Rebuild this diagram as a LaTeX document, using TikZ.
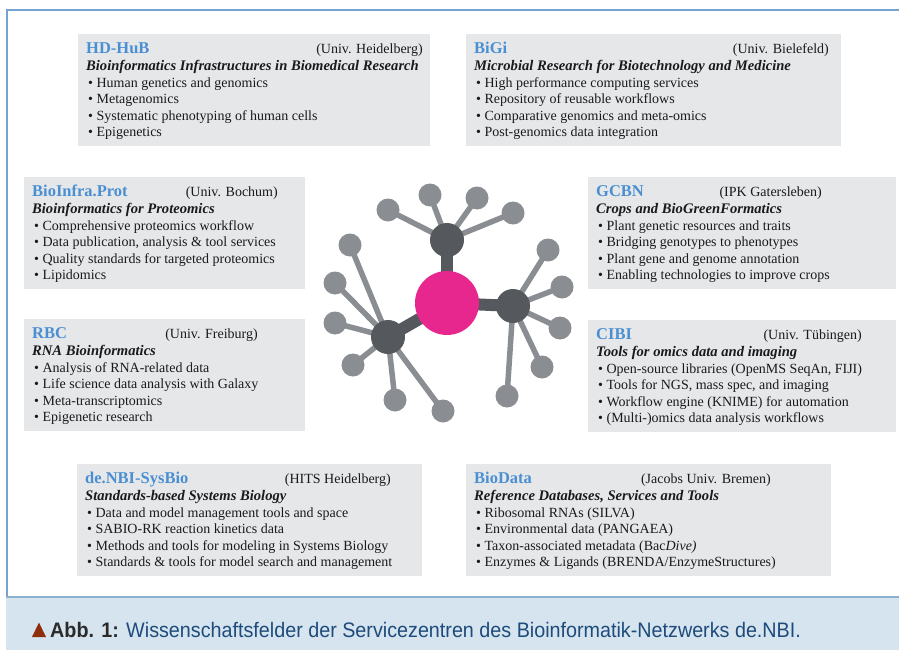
\documentclass[tikz,border=0pt]{standalone}
\usepackage{fontspec}
\setmainfont{Liberation Serif}
\newfontfamily\capfont[FakeStretch=0.94]{Liberation Sans}
\usetikzlibrary{calc}

\definecolor{boxgray}{HTML}{E6E7E9}
\definecolor{hdrblue}{HTML}{4A8FD2}
\definecolor{framecol}{HTML}{74A3CF}
\definecolor{bandfill}{HTML}{D5E4EE}
\definecolor{bandline}{HTML}{8DB0CF}
\definecolor{capred}{HTML}{8F2D0C}
\definecolor{capdark}{HTML}{2B2B2B}
\definecolor{capblue}{HTML}{1E4B7B}
\definecolor{corepink}{HTML}{E8278E}
\definecolor{hubdark}{HTML}{55585D}
\definecolor{leafgray}{HTML}{8A8D92}
\definecolor{inktext}{HTML}{1A1A1A}

\pgfdeclarelayer{paper}
\pgfdeclarelayer{links}
\pgfsetlayers{paper,links,main}

\tikzset{
  svcbg/.style={rectangle, fill=boxgray, draw=none, inner sep=0pt, outer sep=0pt},
  hdr/.style={font=\fontsize{16.5}{18}\selectfont\bfseries, text=hdrblue, inner sep=0pt},
  aff/.style={font=\fontsize{14}{16}\selectfont, text=inktext, inner sep=0pt},
  sub/.style={font=\fontsize{14.6}{16}\selectfont\bfseries\itshape, text=inktext, inner sep=0pt},
  item/.style={font=\fontsize{14}{16}\selectfont, text=inktext, inner sep=0pt},
  core/.style={circle, fill=corepink, minimum size=64pt, inner sep=0pt},
  hub/.style={circle, fill=hubdark, minimum size=34pt, inner sep=0pt},
  leaf/.style={circle, fill=leafgray, minimum size=23pt, inner sep=0pt},
  bar/.style={draw=hubdark, line width=12pt},
  spoke/.style={draw=leafgray, line width=5.5pt},
  capt/.style={font=\capfont\fontsize{21}{24}\selectfont, text=capdark, inner sep=0pt},
}

% service centre panel: name, top-left corner, width, title,
% right end of the affiliation (from the left edge), affiliation, subtitle, items
\newcommand\svc[8]{%
  \node[svcbg, minimum width=#3pt, minimum height=112pt, anchor=north west] (#1) at (#2) {};
  \node[hdr, anchor=base west] (#1-title) at ($(#1.north west)+(8,19.5)$) {#4};
  \node[aff, anchor=base east] (#1-aff) at ($(#1.north west)+(#5,19.5)$) {#6};
  \node[sub, anchor=base west] (#1-sub) at ($(#1.north west)+(8,36.5)$) {#7};
  \foreach \itemtext [count=\i] in {#8}{%
    \node[item, anchor=base west] (#1-\i) at ($(#1.north west)+(10,{36.5+16.6*\i})$) {\textbullet\hspace{3.5pt}\itemtext};
  }%
}

\begin{document}
\begin{tikzpicture}[x=1pt,y=-1pt]
\useasboundingbox (0,0) rectangle (899,650);
\begin{pgfonlayer}{paper}
  \fill[white] (0,0) rectangle (899,650);
\end{pgfonlayer}

% outer frame and caption band
\draw[framecol, line width=1.6pt] (899,10) -- (7,10) -- (7,597);
\fill[bandfill] (6,597) rectangle (899,650);
\draw[bandline, line width=1.2pt] (6,597) -- (899,597);

% panels
\svc{hdhub}{78,34}{352}{HD-HuB}{345}{(Univ. Heidelberg)}
  {Bioinformatics Infrastructures in Biomedical Research}
  {{Human genetics and genomics},{Metagenomics},{Systematic phenotyping of human cells},{Epigenetics}}
\svc{bigi}{466,34}{375}{BiGi}{363}{(Univ. Bielefeld)}
  {Microbial Research for Biotechnology and Medicine}
  {{High performance computing services},{Repository of reusable workflows},{Comparative genomics and meta-omics},{Post-genomics data integration}}
\svc{bioinfra}{24,177}{281}{BioInfra.Prot}{254}{(Univ. Bochum)}
  {Bioinformatics for Proteomics}
  {{Comprehensive proteomics workflow},{Data publication, analysis \& tool services},{Quality standards for targeted proteomics},{Lipidomics}}
\svc{gcbn}{588,177}{308}{GCBN}{234}{(IPK Gatersleben)}
  {Crops and BioGreenFormatics}
  {{Plant genetic resources and traits},{Bridging genotypes to phenotypes},{Plant gene and genome annotation},{Enabling technologies to improve crops}}
\svc{rbc}{24,319}{281}{RBC}{234}{(Univ. Freiburg)}
  {RNA Bioinformatics}
  {{Analysis of RNA-related data},{Life science data analysis with Galaxy},{Meta-transcriptomics},{Epigenetic research}}
\svc{cibi}{588,320}{308}{CIBI}{274}{(Univ. Tübingen)}
  {Tools for omics data and imaging}
  {{Open-source libraries (OpenMS SeqAn, FIJI)},{Tools for NGS, mass spec, and imaging},{Workflow engine (KNIME) for automation},{(Multi-)omics data analysis workflows}}
\svc{sysbio}{77,464}{345}{de.NBI-SysBio}{314}{(HITS Heidelberg)}
  {Standards-based Systems Biology}
  {{Data and model management tools and space},{SABIO-RK reaction kinetics data},{Methods and tools for modeling in Systems Biology},{Standards \& tools for model search and management}}
\svc{biodata}{466,464}{365}{BioData}{305}{(Jacobs Univ. Bremen)}
  {Reference Databases, Services and Tools}
  {{Ribosomal RNAs (SILVA)},{Environmental data (PANGAEA)},{Taxon-associated metadata (Bac\textit{Dive)}},{Enzymes \& Ligands (BRENDA/EnzymeStructures)}}

% network emblem
\node[core] (core) at (447,303) {};
\node[hub] (htop) at (447,240) {};
\node[hub] (hright) at (513,306) {};
\node[hub] (hleft) at (388,337) {};
\foreach \n/\x/\y/\h in {
    t1/388/210/htop, t2/430/195/htop, t3/477/198/htop, t4/513/213/htop,
    r1/548/250/hright, r2/562/287/hright, r3/560/328/hright, r4/542/367/hright, r5/507/396/hright,
    l1/350/245/hleft, l2/335/283/hleft, l3/335/323/hleft, l4/353/365/hleft, l5/395/400/hleft, l6/443/411/hleft}{
  \node[leaf] (\n) at (\x,\y) {};
  \begin{pgfonlayer}{links}
    \draw[spoke] (\h.center) -- (\n.center);
  \end{pgfonlayer}
}
\begin{pgfonlayer}{links}
  \foreach \h in {htop,hright,hleft}
    \draw[bar] (core.center) -- (\h.center);
\end{pgfonlayer}

% caption
\fill[capred] (32,637) -- (46,637) -- (39,622.5) -- cycle;
\node[capt, anchor=base west] (caption) at (50,637)
  {\textbf{Abb. 1:} \textcolor{capblue}{Wissenschaftsfelder der Servicezentren des Bioinformatik-Netzwerks de.NBI.}};
\end{tikzpicture}
\end{document}
